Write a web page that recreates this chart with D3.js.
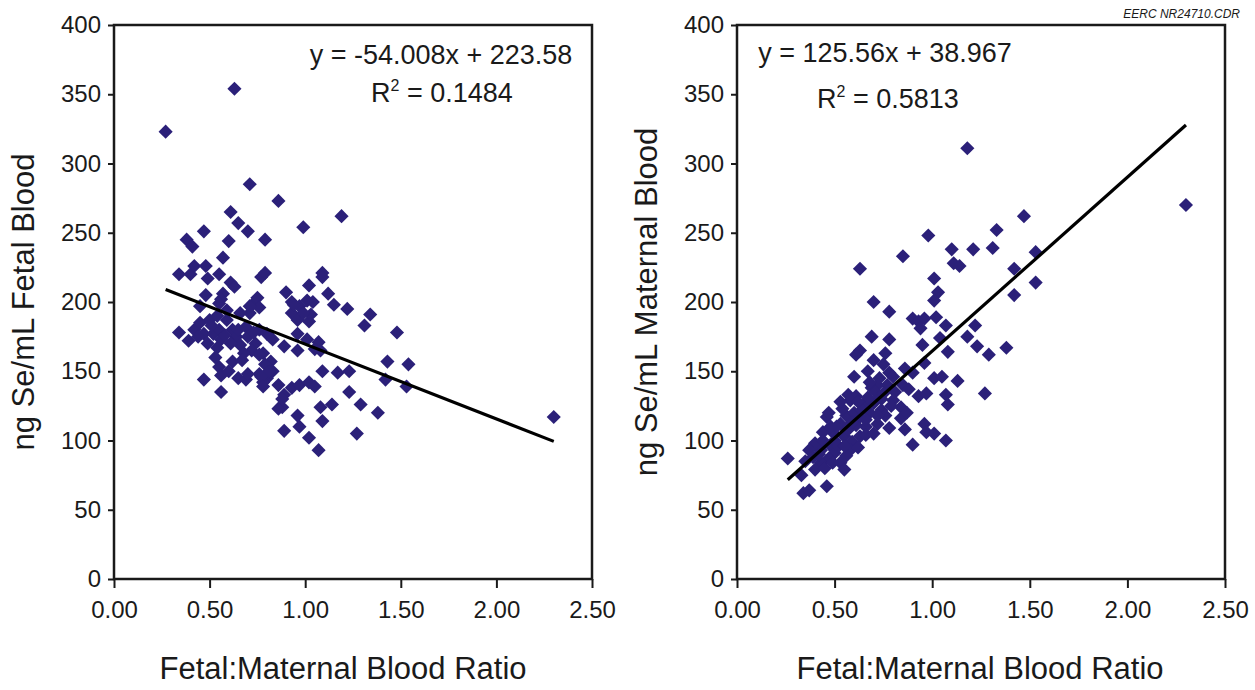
<!DOCTYPE html>
<html>
<head>
<meta charset="utf-8">
<script src="https://cdn.jsdelivr.net/npm/d3@7"></script>
<style>
  html, body { margin: 0; padding: 0; background: #fff; }
  svg { display: block; font-family: "Liberation Sans", Arial, Helvetica, sans-serif; }
</style>
</head>
<body>
<svg id="chart" width="1255" height="690"></svg>
<script>
// tick values shared by both panels
const ratioTicks = [0, 0.5, 1, 1.5, 2, 2.5];
const seTicks = [0, 50, 100, 150, 200, 250, 300, 350, 400];

// [fetal:maternal ratio, ng Se/mL fetal blood]
const fetalPoints = [
  [0.27, 323], [0.63, 354], [2.30, 117], [0.71, 285], [0.86, 273], [1.19, 262],
  [0.99, 254], [0.61, 265], [0.65, 257], [0.70, 251], [0.47, 251], [0.38, 245],
  [0.41, 240], [0.60, 244], [0.79, 245], [0.57, 232], [0.34, 220], [0.40, 220],
  [0.42, 226], [0.48, 226], [0.49, 217], [0.55, 220], [0.61, 214], [0.63, 211],
  [0.77, 218], [0.79, 221], [1.09, 221], [1.09, 218], [1.02, 212], [0.90, 207],
  [1.12, 206], [0.93, 200], [0.97, 197], [1.04, 200], [1.15, 198], [1.22, 195],
  [1.34, 191], [1.31, 183], [1.48, 178], [0.48, 205], [0.45, 197], [0.57, 206],
  [0.56, 202], [0.73, 199], [0.75, 203], [0.76, 196], [0.71, 192], [0.93, 192],
  [0.96, 187], [1.02, 186], [1.03, 191], [0.34, 178], [0.39, 172], [0.96, 177],
  [1.07, 171], [1.05, 166], [0.96, 165], [1.43, 157], [1.54, 155], [1.09, 150],
  [1.17, 149], [1.23, 150], [1.42, 144], [1.53, 139], [0.47, 144], [0.56, 135],
  [0.65, 145], [0.69, 144], [0.86, 140], [0.89, 133], [0.93, 138], [0.97, 140],
  [1.02, 142], [1.05, 139], [0.88, 124], [0.96, 118], [1.08, 124], [1.14, 126],
  [1.29, 126], [1.23, 135], [1.09, 114], [1.38, 120], [0.97, 110], [0.89, 107],
  [1.02, 102], [1.27, 105], [1.07, 93], [0.42, 180], [0.45, 185], [0.47, 177],
  [0.50, 187], [0.52, 177], [0.55, 180], [0.56, 173], [0.49, 170], [0.54, 167],
  [0.59, 187], [0.62, 180], [0.64, 175], [0.66, 169], [0.69, 182], [0.70, 175],
  [0.74, 170], [0.72, 165], [0.68, 163], [0.76, 180], [0.80, 177], [0.83, 173],
  [0.78, 163], [0.82, 157], [0.89, 168], [1.01, 173], [1.08, 165], [0.62, 157],
  [0.76, 148], [0.80, 145], [0.83, 150], [0.78, 142], [0.55, 153], [0.56, 147],
  [0.59, 194], [0.66, 192], [0.71, 197], [0.55, 199], [0.94, 198], [1.01, 201],
  [0.99, 192], [0.54, 190], [0.76, 162], [0.79, 155], [0.81, 150], [0.77, 146],
  [0.78, 139], [0.86, 123], [0.88, 130], [0.44, 175], [0.51, 183], [0.58, 176],
  [0.61, 170], [0.65, 180], [0.73, 178], [0.67, 158], [0.53, 160], [0.70, 148],
  [0.60, 150]
];

// [fetal:maternal ratio, ng Se/mL maternal blood]
const maternalPoints = [
  [2.30, 270], [1.18, 311], [1.47, 262], [1.33, 252], [0.98, 248], [1.10, 238],
  [1.21, 238], [1.31, 239], [1.53, 236], [0.85, 233], [0.63, 224], [1.11, 228],
  [1.14, 226], [1.42, 224], [1.53, 214], [1.01, 217], [1.03, 207], [1.01, 201],
  [1.42, 205], [0.70, 200], [0.78, 193], [0.90, 188], [0.93, 186], [0.96, 188],
  [0.94, 181], [1.02, 189], [1.07, 183], [1.22, 183], [0.69, 175], [0.78, 173],
  [0.95, 169], [1.04, 174], [1.18, 175], [1.23, 168], [1.29, 162], [1.38, 167],
  [1.08, 164], [0.61, 162], [0.63, 165], [0.76, 163], [0.75, 155], [0.78, 149],
  [0.73, 145], [0.72, 140], [0.86, 152], [0.90, 149], [0.96, 156], [0.60, 146],
  [1.01, 145], [1.05, 146], [1.13, 143], [0.81, 135], [0.80, 129], [0.84, 124],
  [0.93, 132], [0.97, 134], [1.07, 133], [1.08, 126], [1.27, 134], [0.57, 133],
  [0.61, 132], [0.65, 126], [0.70, 127], [0.74, 122], [0.68, 120], [0.63, 117],
  [0.56, 118], [0.53, 112], [0.46, 117], [0.61, 111], [0.66, 110], [0.72, 112],
  [0.78, 109], [0.84, 116], [0.86, 108], [0.49, 106], [0.55, 103], [0.59, 99],
  [0.63, 103], [0.44, 106], [0.40, 98], [0.43, 93], [0.48, 96], [0.50, 91],
  [0.53, 84], [0.55, 79], [0.47, 87], [0.43, 84], [0.40, 79], [0.37, 93],
  [0.26, 87], [0.33, 75], [0.34, 62], [0.37, 64], [0.46, 67], [0.90, 97],
  [0.96, 112], [0.97, 106], [1.01, 105], [1.07, 100], [0.87, 120], [0.54, 123],
  [0.58, 129], [0.47, 120], [0.50, 100], [0.52, 96], [0.57, 108], [0.60, 120],
  [0.64, 122], [0.67, 131], [0.69, 138], [0.71, 135], [0.74, 130], [0.76, 118],
  [0.79, 125], [0.58, 93], [0.51, 110], [0.44, 100], [0.39, 88], [0.35, 85],
  [0.45, 80], [0.56, 89], [0.62, 95], [0.66, 104], [0.70, 105], [0.77, 140],
  [0.80, 146], [0.67, 150], [0.70, 158], [0.85, 140], [0.88, 137], [0.48, 110],
  [0.42, 90], [0.53, 128], [0.62, 128], [0.66, 115], [0.72, 118], [0.59, 113],
  [0.55, 96], [0.49, 84], [0.75, 134], [0.68, 142]
];

const xTitle = 'Fetal:Maternal Blood Ratio';
const yTitles = ['ng Se/mL Fetal Blood', 'ng Se/mL Maternal Blood'];
const fitSlopes = [-54.008, 125.56];
const fitIntercepts = [223.58, 38.967];
const fitR2 = ['0.1484', '0.5813'];

const pointColor = '#2b2079';
const ink = '#1a1a1a';
const plotTop = 25;
const plotBottom = 579;

const panels = [
  { points: fetalPoints, left: 114, right: 592, titleX: 343, yTitleX: 34,
    eqX: 441, eqY: 64, r2X: 442, r2Y: 102 },
  { points: maternalPoints, left: 737, right: 1225, titleX: 980, yTitleX: 657,
    eqX: 885, eqY: 62, r2X: 888, r2Y: 108 }
];

const svg = d3.select('#chart');

panels.forEach((p, i) => {
  const x = d3.scaleLinear().domain([0, 2.5]).range([p.left, p.right]);
  const y = d3.scaleLinear().domain([0, 400]).range([plotBottom, plotTop]);
  const g = svg.append('g');

  // y axis
  const yAxis = g.append('g')
      .attr('transform', `translate(${p.left},0)`)
      .call(d3.axisLeft(y).tickValues(seTicks).tickSize(6).tickPadding(7));
  // x axis
  const xAxis = g.append('g')
      .attr('transform', `translate(0,${plotBottom})`)
      .call(d3.axisBottom(x).tickValues(ratioTicks).tickSize(9).tickPadding(13)
        .tickFormat(d3.format('.2f')));

  [yAxis, xAxis].forEach(a => {
    a.select('.domain').remove();
    a.selectAll('line').attr('stroke', ink).attr('stroke-width', 2);
    a.selectAll('text').attr('fill', ink).style('font-size', '24px');
  });

  // frame
  g.append('rect')
      .attr('x', p.left)
      .attr('y', plotTop)
      .attr('width', p.right - p.left)
      .attr('height', plotBottom - plotTop)
      .attr('fill', 'none')
      .attr('stroke', ink)
      .attr('stroke-width', 2.5);

  // diamonds
  const diamond = d3.symbol().type(d3.symbolSquare).size(100);
  g.append('g')
    .selectAll('path')
    .data(p.points)
    .join('path')
      .attr('d', diamond)
      .attr('transform', d => `translate(${x(d[0])},${y(d[1])}) rotate(45)`)
      .attr('fill', pointColor);

  // trend line across the data's x range
  const xr = d3.extent(p.points, d => d[0]);
  const fit = xr.map(v => [v, fitSlopes[i] * v + fitIntercepts[i]]);
  g.append('path')
      .datum(fit)
      .attr('fill', 'none')
      .attr('stroke', '#000')
      .attr('stroke-width', 3.2)
      .attr('d', d3.line().x(d => x(d[0])).y(d => y(d[1])));

  // equation + r squared
  const sign = fitIntercepts[i] < 0 ? '-' : '+';
  g.append('text')
      .attr('x', p.eqX)
      .attr('y', p.eqY)
      .attr('text-anchor', 'middle')
      .attr('fill', ink)
      .style('font-size', '27px')
      .text(`y = ${fitSlopes[i]}x ${sign} ${Math.abs(fitIntercepts[i])}`);

  const r2 = g.append('text')
      .attr('x', p.r2X)
      .attr('y', p.r2Y)
      .attr('text-anchor', 'middle')
      .attr('fill', ink)
      .style('font-size', '27px');
  r2.append('tspan').text('R');
  r2.append('tspan').attr('dy', -11).style('font-size', '16px').text('2');
  r2.append('tspan').attr('dy', 11).text(` = ${fitR2[i]}`);

  // titles
  g.append('text')
      .attr('x', p.titleX)
      .attr('y', 679)
      .attr('text-anchor', 'middle')
      .attr('fill', ink)
      .style('font-size', '31px')
      .text(xTitle);

  g.append('text')
      .attr('transform', `translate(${p.yTitleX},302) rotate(-90)`)
      .attr('text-anchor', 'middle')
      .attr('fill', ink)
      .style('font-size', '31px')
      .text(yTitles[i]);
});

svg.append('text')
    .attr('x', 1240)
    .attr('y', 18)
    .attr('text-anchor', 'end')
    .attr('fill', ink)
    .style('font-size', '12px')
    .style('font-style', 'italic')
    .text('EERC NR24710.CDR');
</script>
</body>
</html>
